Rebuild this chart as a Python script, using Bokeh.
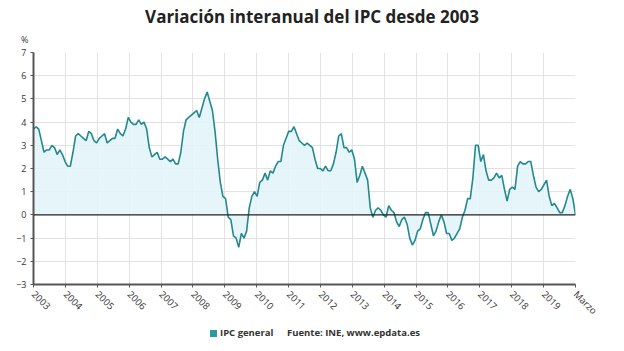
from bokeh.plotting import figure
from bokeh.models import Span, FixedTicker, Range1d, Div
from bokeh.layouts import column
from bokeh.embed import file_html
from bokeh.resources import INLINE
import math

title = "Variación interanual del IPC desde 2003"
unit_label = "%"
series_name = "IPC general"
source_text = "Fuente: INE, www.epdata.es"
year_labels = [str(y) for y in range(2003, 2020)] + ["Marzo"]

ipc_2003 = [3.7, 3.8, 3.7, 3.2, 2.7, 2.8, 2.8, 3.0, 2.9, 2.6, 2.8, 2.6]
ipc_2004 = [2.3, 2.1, 2.1, 2.7, 3.4, 3.5, 3.4, 3.3, 3.2, 3.6, 3.5, 3.2]
ipc_2005 = [3.1, 3.3, 3.4, 3.5, 3.1, 3.2, 3.3, 3.3, 3.7, 3.5, 3.4, 3.7]
ipc_2006 = [4.2, 4.0, 3.9, 3.9, 4.1, 3.9, 4.0, 3.7, 2.9, 2.5, 2.6, 2.7]
ipc_2007 = [2.4, 2.4, 2.5, 2.4, 2.3, 2.4, 2.2, 2.2, 2.7, 3.6, 4.1, 4.2]
ipc_2008 = [4.3, 4.4, 4.5, 4.2, 4.6, 5.0, 5.3, 4.9, 4.5, 3.6, 2.4, 1.4]
ipc_2009 = [0.8, 0.7, -0.1, -0.2, -0.9, -1.0, -1.4, -0.8, -1.0, -0.7, 0.3, 0.8]
ipc_2010 = [1.0, 0.8, 1.4, 1.5, 1.8, 1.5, 1.9, 1.8, 2.1, 2.3, 2.3, 3.0]
ipc_2011 = [3.3, 3.6, 3.6, 3.8, 3.5, 3.2, 3.1, 3.0, 3.1, 3.0, 2.9, 2.4]
ipc_2012 = [2.0, 2.0, 1.9, 2.1, 1.9, 1.9, 2.2, 2.7, 3.4, 3.5, 2.9, 2.9]
ipc_2013 = [2.7, 2.8, 2.4, 1.4, 1.7, 2.1, 1.8, 1.5, 0.3, -0.1, 0.2, 0.3]
ipc_2014 = [0.2, 0.0, -0.1, 0.4, 0.2, 0.1, -0.3, -0.5, -0.2, -0.1, -0.4, -1.0]
ipc_2015 = [-1.3, -1.1, -0.7, -0.6, -0.2, 0.1, 0.1, -0.4, -0.9, -0.7, -0.3, 0.0]
ipc_2016 = [-0.3, -0.8, -0.8, -1.1, -1.0, -0.8, -0.6, -0.1, 0.2, 0.7, 0.7, 1.6]
ipc_2017 = [3.0, 3.0, 2.3, 2.6, 1.9, 1.5, 1.5, 1.6, 1.8, 1.6, 1.7, 1.1]
ipc_2018 = [0.6, 1.1, 1.2, 1.1, 2.1, 2.3, 2.2, 2.2, 2.3, 2.3, 1.7, 1.2]
ipc_2019 = [1.0, 1.1, 1.3, 1.5, 0.8, 0.4, 0.5, 0.3, 0.1, 0.1, 0.4, 0.8]
ipc_2020 = [1.1, 0.7, 0.0]

ipc = (ipc_2003 + ipc_2004 + ipc_2005 + ipc_2006 + ipc_2007 + ipc_2008 + ipc_2009
       + ipc_2010 + ipc_2011 + ipc_2012 + ipc_2013 + ipc_2014 + ipc_2015 + ipc_2016
       + ipc_2017 + ipc_2018 + ipc_2019 + ipc_2020)

n = len(ipc)
n_ticks = len(year_labels) - 1
# monthly positions spread over the evenly spaced label axis
x = [i * n_ticks / (n - 1) for i in range(n)]

LINE = "#23898f"
FILL = "#e2f4f8"
FONT = "Open Sans"

TOP_H = 45
BOT_H = 27
FIG_H = 351 - TOP_H - BOT_H

header = Div(
    text=(f'<div style="position:relative;width:624px;height:{TOP_H}px;font-family:\'{FONT}\';">'
          f'<div style="position:absolute;left:0;top:6px;width:624px;text-align:center;'
          f'font-size:17px;font-weight:bold;color:#222;line-height:22px;">{title}</div>'
          f'<div style="position:absolute;left:21px;top:35px;font-size:9px;color:#333;'
          f'line-height:10px;">{unit_label}</div></div>'),
    width=624, height=TOP_H, margin=0)

p = figure(width=624, height=FIG_H, output_backend="svg", toolbar_location=None,
           x_range=Range1d(0, n_ticks), y_range=Range1d(-3, 7),
           min_border_left=33, min_border_right=49, min_border_top=52 - TOP_H,
           min_border_bottom=FIG_H - (284 - TOP_H), margin=0)
p.outline_line_color = None
p.background_fill_color = "white"

p.varea(x=x, y1=[0] * n, y2=ipc, fill_color=FILL, fill_alpha=0.9)
p.line(x=x, y=ipc, line_color=LINE, line_width=1.6)
p.add_layout(Span(location=0, dimension="width", line_color="#222222", line_width=1.4))

p.xaxis.ticker = FixedTicker(ticks=list(range(n_ticks + 1)))
p.xaxis.major_label_overrides = {i: lab for i, lab in enumerate(year_labels)}
p.xaxis.major_label_orientation = -math.pi / 4
p.yaxis.ticker = FixedTicker(ticks=list(range(-3, 8)))
for ax in (p.xaxis, p.yaxis):
    ax.axis_line_color = "#555555"
    ax.axis_line_width = 2
    ax.major_tick_line_color = "#555555"
    ax.major_tick_in = 0
    ax.major_tick_out = 3
    ax.minor_tick_line_color = None
    ax.major_label_text_font = FONT
    ax.major_label_text_color = "#333333"
p.yaxis.major_label_text_font_size = "9px"
p.xaxis.major_label_text_font_size = "9.5px"
p.yaxis.major_label_standoff = 4
p.xaxis.major_label_standoff = 5

p.xgrid.ticker = p.xaxis.ticker
p.ygrid.ticker = p.yaxis.ticker
p.grid.grid_line_color = "#e2e2e2"
p.grid.grid_line_width = 1

footer = Div(
    text=(f'<div style="position:relative;width:624px;height:{BOT_H}px;font-family:\'{FONT}\';'
          f'font-size:9.5px;font-weight:bold;color:#333;line-height:12px;">'
          f'<div style="position:absolute;left:210px;top:6px;width:7px;height:7px;'
          f'background:#2a9aa0;"></div>'
          f'<div style="position:absolute;left:220px;top:3px;">{series_name}</div>'
          f'<div style="position:absolute;left:287px;top:3px;">{source_text}</div></div>'),
    width=624, height=BOT_H, margin=0)

layout = column(header, p, footer, spacing=0, margin=0)
open("out.html", "w").write(file_html(layout, INLINE))
